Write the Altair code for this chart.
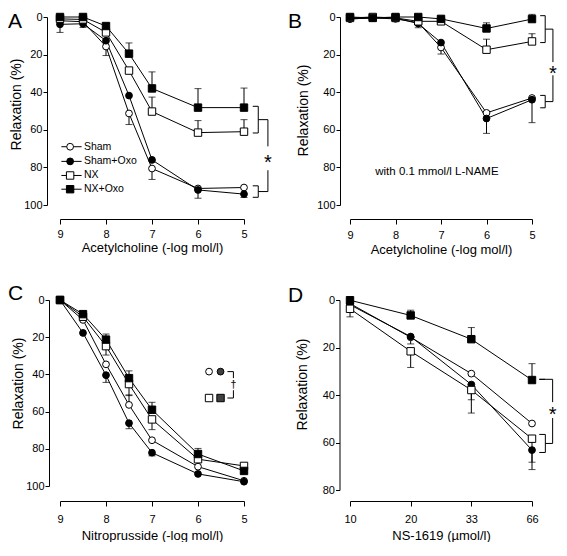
import json
import altair as alt
import pandas as pd

FONT = "Liberation Sans"
N = None

groups = ["Sham", "Sham+Oxo", "NX", "NX+Oxo"]
shapes = ["circle", "circle", "square", "square"]
fills = ["white", "black", "white", "black"]
sizes = [46, 46, 55, 55]

conc_x = [9, 8.5, 8, 7.5, 7, 6, 5]
conc_ticks = [9, 8, 7, 6, 5]

# Panel A: Acetylcholine
a_sham = [2.0, 2.5, 15.7, 51.3, 80.6, 91.2, 90.7]
a_sham_oxo = [3.9, 3.6, 12.6, 41.8, 76.0, 92.0, 94.2]
a_nx = [1.0, 1.3, 8.2, 28.5, 50.3, 61.5, 61.0]
a_nx_oxo = [0.0, 0.0, 4.8, 19.5, 38.0, 48.2, 48.2]
a_sham_err = [N, N, 20.5, 57.2, 86.4, N, N]
a_sham_oxo_err = [8.2, 5.6, N, N, N, 96.4, 96.0]
a_nx_err = [N, N, N, N, 42.6, 55.1, 54.6]
a_nx_oxo_err = [N, N, 3.4, 13.8, 29.2, 38.1, 37.8]

# Panel B: Acetylcholine with L-NAME
b_sham = [1.0, 0.5, 1.0, 3.0, 16.2, 51.0, 43.1]
b_sham_oxo = [1.0, 0.5, 0.5, 3.5, 13.6, 54.0, 44.0]
b_nx = [0.5, 0.0, 0.5, 2.3, 2.3, 17.4, 13.0]
b_nx_oxo = [0.0, 0.5, 0.0, 0.0, 1.0, 6.1, 1.1]
b_sham_err = [N, N, N, N, 19.7, N, N]
b_sham_oxo_err = [N, N, N, 5.7, N, 61.9, 56.2]
b_nx_err = [N, N, N, N, N, 11.8, 8.9]
b_nx_oxo_err = [N, N, N, N, N, 3.1, -1.4]

# Panel C: Nitroprusside
c_sham = [0.0, 10.7, 34.6, 56.4, 75.4, 89.6, 97.2]
c_sham_oxo = [0.0, 17.7, 40.4, 66.2, 82.1, 93.5, 97.7]
c_nx = [0.0, 9.0, 24.8, 45.2, 64.2, 85.6, 89.2]
c_nx_oxo = [0.0, 7.6, 21.3, 42.0, 59.0, 82.8, 91.9]
c_sham_err = [N, N, N, 51.0, N, N, N]
c_sham_oxo_err = [N, N, 44.3, 69.2, 83.8, N, N]
c_nx_err = [N, N, 29.6, 51.4, 69.7, N, N]
c_nx_oxo_err = [N, N, 18.3, 38.1, 55.0, 79.8, N]

# Panel D: NS-1619
ns_labels = ["10", "20", "33", "66"]
ns_x = [0, 1, 2, 3]
d_sham = [1.5, 15.7, 31.0, 52.0]
d_sham_oxo = [2.0, 15.4, 35.6, 63.2]
d_nx = [3.7, 21.6, 37.9, 58.4]
d_nx_oxo = [0.1, 6.5, 16.5, 33.7]
d_sham_err = [N, N, N, N]
d_sham_oxo_err = [N, 18.5, 42.0, 71.4]
d_nx_err = [7.1, 28.4, 47.6, 68.3]
d_nx_oxo_err = [N, 4.3, 11.6, 26.8]

# significance brackets (data units of each panel)
a_brk = dict(x_in=4.81, x_mid=4.69, x_out=4.48, upper=(47.5, 61.7), lower=(89.8, 95.9), star=75.0, gap=(68.8, 81.5))
b_brk = dict(x_in=4.82, x_mid=4.71, x_out=4.54, upper=(-0.7, 13.6), lower=(41.7, 48.3), star=27.5, gap=(24.0, 31.0))
d_brk = dict(x_in=3.12, x_mid=3.22, x_out=3.34, upper=(33.4, 33.4), lower=(56.6, 64.2), star=46.2, gap=(43.0, 49.7))

# panel A legend
leg_y = [69.0, 76.8, 84.3, 91.6]
leg_line_x = (8.97, 8.53)
leg_mark_x = 8.78
leg_text_x = 8.48

# panel C symbol key
c_key_x = [5.76, 5.51, 5.76, 5.51]
c_key_y = [38.5, 38.5, 52.7, 52.7]
c_key_shape = ["circle", "circle", "square", "square"]
c_key_fill = ["white", "#404040", "white", "#404040"]
c_key_brk = dict(x_in=5.36, x_out=5.23, top=38.5, bot=52.7, gap=(42.0, 48.5), mark=45.2)

b_note = dict(x=7.09, y=84.0, text="with 0.1 mmol/l L-NAME")


def series_df(xs, vals, errs):
    rows = []
    for g, shp, f, sz, vv, ee in zip(groups, shapes, fills, sizes, vals, errs):
        for x, v, e in zip(xs, vv, ee):
            rows.append({"x": x, "y": v, "e": e, "g": g, "shape": shp, "fill": f, "sz": sz})
    return pd.DataFrame(rows)


def bracket_df(b):
    segs = []
    for (t, bt) in (b["upper"], b["lower"]):
        segs.append((b["x_in"], t, b["x_mid"], t))
        segs.append((b["x_in"], bt, b["x_mid"], bt))
        segs.append((b["x_mid"], t, b["x_mid"], bt))
        segs.append((b["x_mid"], (t + bt) / 2, b["x_out"], (t + bt) / 2))
    m1 = sum(b["upper"]) / 2
    m2 = sum(b["lower"]) / 2
    segs.append((b["x_out"], m1, b["x_out"], b["gap"][0]))
    segs.append((b["x_out"], b["gap"][1], b["x_out"], m2))
    return pd.DataFrame(segs, columns=["x", "y", "x2", "y2"])


class Enc:
    def __init__(self, xscale, xaxis, yscale, yaxis):
        self.xs, self.xa, self.ys, self.ya = xscale, xaxis, yscale, yaxis

    def X(self, f="x"):
        return alt.X(f + ":Q", scale=self.xs, axis=self.xa)

    def Y(self, f="y"):
        return alt.Y(f + ":Q", scale=self.ys, axis=self.ya)


def marker_layer(df, E):
    return alt.Chart(df).mark_point(filled=True, stroke="black", strokeWidth=1, opacity=1).encode(
        E.X(), E.Y(),
        shape=alt.Shape("shape:N", scale=None),
        fill=alt.Fill("fill:N", scale=None),
        size=alt.Size("sz:Q", scale=None),
    )


def panel(xs, vals, errs, E, w, h, letter, letter_pos, extras):
    df = series_df(xs, vals, errs)
    edf = df.dropna(subset=["e"])
    lines = alt.Chart(df).mark_line(color="black", strokeWidth=1).encode(E.X(), E.Y(), detail="g:N")
    err = alt.Chart(edf).mark_rule(color="black", strokeWidth=1).encode(E.X(), E.Y(), y2="e:Q")
    caps = alt.Chart(edf).mark_tick(color="black", thickness=1, size=7, orient="horizontal").encode(
        E.X(), E.Y("e"))
    pts = marker_layer(df, E)
    lt = alt.Chart(pd.DataFrame({"t": [letter]})).mark_text(
        font=FONT, fontSize=21, align="left", baseline="top", color="black").encode(
        text="t:N", x=alt.value(letter_pos[0]), y=alt.value(letter_pos[1]))
    layers = [lines, err, caps, pts] + [e(E) for e in extras] + [lt]
    return alt.layer(*layers).properties(width=w, height=h)


def bracket_layers(b, star_fs=20):
    def f(E):
        bd = bracket_df(b)
        r = alt.Chart(bd).mark_rule(color="black", strokeWidth=1).encode(E.X(), E.Y(), x2="x2:Q", y2="y2:Q")
        s = alt.Chart(pd.DataFrame({"x": [b["x_out"]], "y": [b["star"]], "t": ["*"]})).mark_text(
            font=FONT, fontSize=star_fs, baseline="alphabetic", align="center", dy=11, color="black").encode(
            E.X(), E.Y(), text="t:N")
        return alt.layer(r, s)
    return f


def a_legend(E):
    ldf = pd.DataFrame({"y": leg_y, "g": groups, "shape": shapes, "fill": fills, "sz": sizes,
                        "x": [leg_mark_x] * 4, "x1": [leg_line_x[0]] * 4, "x2": [leg_line_x[1]] * 4,
                        "xt": [leg_text_x] * 4})
    ln = alt.Chart(ldf).mark_rule(color="black", strokeWidth=1).encode(E.X("x1"), E.Y(), x2="x2:Q")
    pt = marker_layer(ldf, E)
    tx = alt.Chart(ldf).mark_text(font=FONT, fontSize=10.5, align="left", baseline="middle", color="black").encode(
        E.X("xt"), E.Y(), text="g:N")
    return alt.layer(ln, pt, tx)


def b_text(E):
    return alt.Chart(pd.DataFrame({"x": [b_note["x"]], "y": [b_note["y"]], "t": [b_note["text"]]})).mark_text(
        font=FONT, fontSize=11.5, align="center", baseline="alphabetic", color="black").encode(
        E.X(), E.Y(), text="t:N")


def c_key(E):
    kdf = pd.DataFrame({"x": c_key_x, "y": c_key_y, "shape": c_key_shape, "fill": c_key_fill,
                        "sz": [46, 46, 55, 55]})
    pt = marker_layer(kdf, E)
    k = c_key_brk
    segs = pd.DataFrame([
        (k["x_in"], k["top"], k["x_out"], k["top"]),
        (k["x_in"], k["bot"], k["x_out"], k["bot"]),
        (k["x_out"], k["top"], k["x_out"], k["gap"][0]),
        (k["x_out"], k["gap"][1], k["x_out"], k["bot"]),
    ], columns=["x", "y", "x2", "y2"])
    r = alt.Chart(segs).mark_rule(color="black", strokeWidth=1).encode(E.X(), E.Y(), x2="x2:Q", y2="y2:Q")
    dg = alt.Chart(pd.DataFrame({"x": [k["x_out"]], "y": [k["mark"]], "t": ["\u2020"]})).mark_text(
        font=FONT, fontSize=10.5, fontWeight="bold", align="center", baseline="alphabetic", dy=3.5,
        color="#222222").encode(E.X(), E.Y(), text="t:N")
    return alt.layer(pt, r, dg)


def x_axis(title, values, off, lpad, tpad, expr=None):
    kw = dict(title=title, values=values, offset=off, tickSize=5, labelPadding=lpad, titlePadding=tpad,
              labelFlush=False, labelOverlap=False, titleFontSize=13)
    if expr:
        kw["labelExpr"] = expr
    else:
        kw["format"] = "d"
    return alt.Axis(**kw)


def y_axis(values, off, tx, ty):
    return alt.Axis(title="Relaxation (%)", values=values, offset=off, tickSize=4, labelPadding=1,
                    titleFontSize=14, titleX=tx, titleY=ty, labelOverlap=False)


conc_scale = alt.Scale(domain=[9, 5], nice=False, zero=False)
y100 = alt.Scale(domain=[0, 100], nice=False, zero=False, reverse=True)
y80 = alt.Scale(domain=[0, 80], nice=False, zero=False, reverse=True)
yt100 = [0, 20, 40, 60, 80, 100]

EA = Enc(conc_scale, x_axis("Acetylcholine (-log mol/l)", conc_ticks, 14, 4, 2), y100, y_axis(yt100, 13, -24, 87))
EB = Enc(conc_scale, x_axis("Acetylcholine (-log mol/l)", conc_ticks, 14, 5, 3), y100, y_axis(yt100, 10, -30, 93))
EC = Enc(conc_scale, x_axis("Nitroprusside (-log mol/l)", conc_ticks, 15, 7, 5), y100, y_axis(yt100, 11, -24, 83))
ED = Enc(alt.Scale(domain=[0, 3], nice=False, zero=False),
         x_axis("NS-1619 (\u00b5mol/l)", ns_x, 11, 7, 5, expr=json.dumps(ns_labels) + "[datum.value]"),
         y80, y_axis([0, 20, 40, 60, 80], 10.5, -30, 84))

pA = panel(conc_x, [a_sham, a_sham_oxo, a_nx, a_nx_oxo], [a_sham_err, a_sham_oxo_err, a_nx_err, a_nx_oxo_err],
           EA, 184, 188, "A", (-52, -6), [a_legend, bracket_layers(a_brk)])
pB = panel(conc_x, [b_sham, b_sham_oxo, b_nx, b_nx_oxo], [b_sham_err, b_sham_oxo_err, b_nx_err, b_nx_oxo_err],
           EB, 182, 188, "B", (-62, -6), [b_text, bracket_layers(b_brk)])
pC = panel(conc_x, [c_sham, c_sham_oxo, c_nx, c_nx_oxo], [c_sham_err, c_sham_oxo_err, c_nx_err, c_nx_oxo_err],
           EC, 184, 186, "C", (-52, -17), [c_key])
pD = panel(ns_x, [d_sham, d_sham_oxo, d_nx, d_nx_oxo], [d_sham_err, d_sham_oxo_err, d_nx_err, d_nx_oxo_err],
           ED, 182, 190, "D", (-62, -15), [bracket_layers(d_brk)])

chart = alt.concat(pA, pB, pC, pD, columns=2, spacing={"row": 95, "column": 106}, bounds="flush").properties(
    padding={"top": 3, "left": 0, "right": 0, "bottom": 0}
).configure_view(stroke=None).configure_axis(
    domainColor="black", tickColor="black", labelColor="black", titleColor="black",
    labelFont=FONT, titleFont=FONT, labelFontSize=11, titleFontWeight="normal", grid=False,
    domainWidth=1, tickWidth=1,
)

chart.save("out.html", embed_options={"renderer": "svg", "actions": False})
